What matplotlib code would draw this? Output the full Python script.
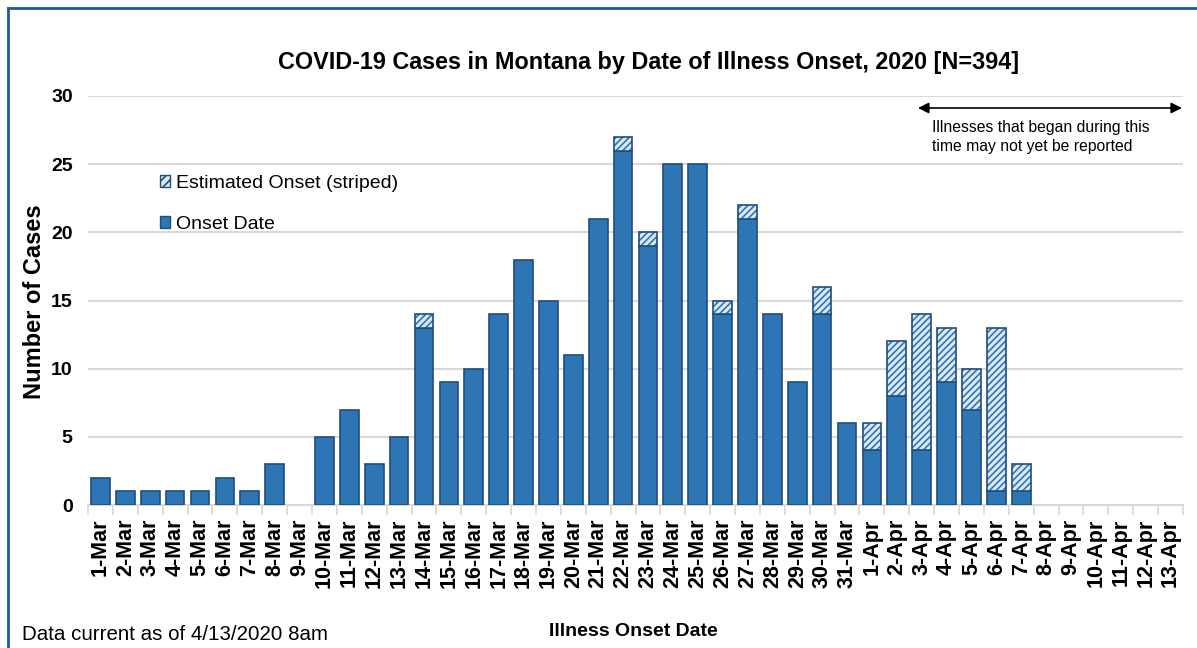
import matplotlib.pyplot as plt
import numpy as np
from matplotlib.patches import Rectangle

plt.rcParams["font.family"] = ["Liberation Sans", "DejaVu Sans"]
plt.rcParams["hatch.linewidth"] = 1.2

# --- data ----------------------------------------------------------------
dates = [f"{d}-Mar" for d in range(1, 32)] + [f"{d}-Apr" for d in range(1, 14)]
onset = [2, 1, 1, 1, 1, 2, 1, 3, 0, 5, 7, 3, 5, 13, 9, 10, 14, 18, 15, 11,
         21, 26, 19, 25, 25, 14, 21, 14, 9, 14, 6,
         4, 8, 4, 9, 7, 1, 1, 0, 0, 0, 0, 0, 0]
estimated = [0, 0, 0, 0, 0, 0, 0, 0, 0, 0, 0, 0, 0, 1, 0, 0, 0, 0, 0, 0,
             0, 1, 1, 0, 0, 1, 1, 0, 0, 2, 0,
             2, 4, 10, 4, 3, 12, 2, 0, 0, 0, 0, 0, 0]
# -------------------------------------------------------------------------

blue = "#2E75B6"
dark = "#1F4E79"
stripe_bg = "#DCE9F5"

W, H = 1197, 648
L, R, T, B = 88, 1183, 96, 505
fig = plt.figure(figsize=(W / 100, H / 100), dpi=100)
ax = fig.add_axes([L / W, 1 - B / H, (R - L) / W, (B - T) / H])

x = np.arange(len(dates))
on = np.array(onset)
est = np.array(estimated)
m1 = on > 0
m2 = est > 0
ax.bar(x[m1], on[m1], width=0.75, color=blue, edgecolor=dark, linewidth=1.2,
       zorder=3)
ax.bar(x[m2], est[m2], bottom=on[m2], width=0.75, color=stripe_bg, edgecolor=blue,
       hatch="/////", linewidth=0, zorder=3)
ax.bar(x[m2], est[m2], bottom=on[m2], width=0.75, fill=False, edgecolor=dark,
       linewidth=1.2, zorder=4)

ax.set_xlim(-0.5, len(dates) - 0.5)
ax.set_ylim(0, 30)
ax.set_yticks(range(0, 31, 5))
ax.grid(axis="y", color="#D9D9D9", linewidth=1.5, zorder=0)
for s in ["top", "right", "left"]:
    ax.spines[s].set_visible(False)
ax.spines["bottom"].set_color("#D9D9D9")
ax.spines["bottom"].set_linewidth(1.5)

ax.set_xticks(x)
ax.set_xticklabels(dates, rotation=90, fontsize=15.5, fontweight="bold")
ax.tick_params(axis="x", which="major", length=0, pad=10)
ax.set_xticks(np.arange(-0.5, len(dates), 1), minor=True)
ax.tick_params(axis="x", which="minor", length=7, color="#D9D9D9", width=1.2)
ax.tick_params(axis="y", length=0, labelsize=14, pad=11)
for t in ax.get_yticklabels():
    t.set_fontweight("bold")

fig.text(35 / W, 1 - 302 / H, "Number of Cases", rotation=90, ha="center",
         va="center", fontsize=17, fontweight="bold")
fig.text(633 / W, 1 - 632 / H, "Illness Onset Date", ha="center", va="center",
         fontsize=14, fontweight="bold")
fig.text(649 / W, 1 - 62 / H,
         "COVID-19 Cases in Montana by Date of Illness Onset, 2020 [N=394]",
         ha="center", va="center", fontsize=16.8, fontweight="bold")
fig.text(22 / W, 1 - 635 / H, "Data current as of 4/13/2020 8am",
         ha="left", va="center", fontsize=14.8)

# legend
est_patch = Rectangle((0, 0), 1, 1, facecolor=stripe_bg, edgecolor=dark,
                      hatch="////", linewidth=1)
on_patch = Rectangle((0, 0), 1, 1, facecolor=blue, edgecolor=dark, linewidth=1)
ax.legend([est_patch, on_patch], ["Estimated Onset (striped)", "Onset Date"],
          loc="upper left", bbox_to_anchor=((152 - L) / (R - L), 1 - (167 - T) / (B - T)),
          frameon=False, fontsize=14, handlelength=0.55, handleheight=0.55,
          handletextpad=0.3, labelspacing=1.25, borderaxespad=0)

# arrow + note
yy = 1 - 12 / (B - T)
ax.annotate("", xy=(0.999, yy), xytext=((918 - L) / (R - L), yy),
            xycoords="axes fraction",
            arrowprops=dict(arrowstyle="<|-|>", color="black", lw=1.2,
                            mutation_scale=16, shrinkA=0, shrinkB=0))
fig.text(932 / W, 1 - 120 / H,
         "Illnesses that began during this\ntime may not yet be reported",
         ha="left", va="top", fontsize=11.3, linespacing=1.35)

# outer frame
fig.add_artist(plt.Line2D([8 / W, 8 / W], [0, 1 - 8 / H],
                          transform=fig.transFigure, color="#1F5AA6", lw=2))
fig.add_artist(plt.Line2D([8 / W, 1], [1 - 8 / H, 1 - 8 / H],
                          transform=fig.transFigure, color="#1F5AA6", lw=2))

fig.savefig("out.png", dpi=100)
